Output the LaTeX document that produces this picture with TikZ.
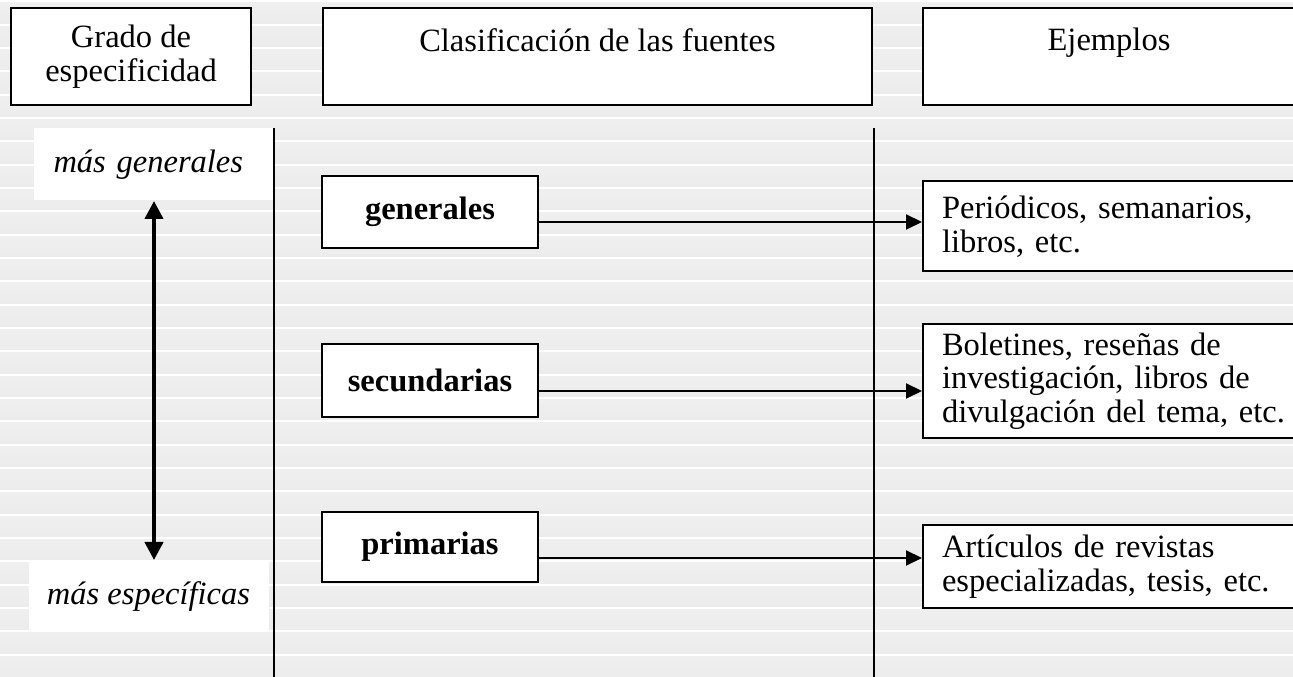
\documentclass[tikz,border=0pt]{standalone}
\usepackage{fontspec}
\setmainfont{Liberation Serif}
\usetikzlibrary{arrows.meta, positioning, calc}

% one reference pixel
\newcommand{\pxu}{0.4pt}

\begin{document}
\begin{tikzpicture}[x=0.4pt, y=-0.4pt,
  txt/.style={font=\fontsize{13}{13.5}\selectfont},
  hdrbox/.style={txt, draw, line width=0.8pt, fill=white, align=center, anchor=north west},
  softbox/.style={fill=white, anchor=north west, font=\fontsize{13}{13.5}\selectfont\itshape},
  clbox/.style={draw, line width=0.8pt, fill=white, minimum width=216*\pxu,
    font=\fontsize{13}{13.5}\selectfont\bfseries},
  exbox/.style={txt, draw, line width=0.8pt, fill=white, anchor=west, align=left,
    text width=352*\pxu, inner xsep=19*\pxu},
  sep/.style={line width=0.8pt},
  arr/.style={-{Triangle[length=6.4pt, width=6pt]}, line width=0.8pt},
  dblarr/.style={{Triangle[length=7.2pt, width=7.2pt]}-{Triangle[length=7.2pt, width=7.2pt]}, line width=1.6pt}]
  % Define colors
  \definecolor{stripetop}{RGB}{239,239,239}
  \definecolor{stripemid}{RGB}{230,230,230}
  \definecolor{stripebot}{RGB}{236,236,236}

  \clip (0,0) rectangle (1293,677);

  % Striped background
  \foreach \k in {0,...,29} {
    \shade[top color=stripetop, middle color=stripemid, bottom color=stripebot]
      (0,{\k*23.33+3}) rectangle (1293,{\k*23.33+23.33});
  }

  % Headers
  \node[hdrbox, minimum width=240*\pxu, minimum height=97*\pxu] (grado) at (10,7) {Grado de\\especificidad};
  \node[hdrbox, minimum width=549*\pxu, minimum height=97*\pxu] (clasif) at (322,7) {Clasificación de las fuentes\\\mbox{}};
  \node[hdrbox, minimum width=372*\pxu, minimum height=97*\pxu] (ejem) at (922,7) {Ejemplos\\\mbox{}};

  % Degree of specificity
  \node[softbox, align=left, text width=201*\pxu, inner xsep=20*\pxu, minimum height=72*\pxu] (masgen) at (33,128) {más generales};
  \node[softbox, minimum width=240*\pxu, minimum height=72*\pxu] (masesp) at (28,560) {más específicas};
  \draw[dblarr] (masgen.south) -- (masgen.south |- masesp.north);

  % Column separators
  \draw[sep] (274,128) -- (274,677);
  \draw[sep] (874,128) -- (874,677);

  % Classification of sources
  \node[clbox, minimum height=72*\pxu] (gen) at (430,212) {generales};
  \node[clbox, minimum height=73*\pxu] (sec) at (430,380.5) {secundarias};
  \node[clbox, minimum height=70*\pxu] (prim) at (430,547) {primarias};

  % Examples
  \node[exbox, minimum height=90*\pxu] (per) at (922,226.5) {Periódicos, semanarios,\\libros, etc.};
  \node[exbox, minimum height=112*\pxu] (bol) at (922,381) {Boletines, reseñas de\\investigación, libros de\\divulgación del tema, etc.};
  \node[exbox, minimum height=83*\pxu] (art) at (922,566.5) {Artículos de revistas\\especializadas, tesis, etc.};

  % Arrows
  \coordinate (genout) at ($(gen.east)+(0,10)$);
  \coordinate (secout) at ($(sec.east)+(0,10.5)$);
  \coordinate (primout) at ($(prim.east)+(0,11)$);
  \draw[arr] (genout) -- (genout -| per.west);
  \draw[arr] (secout) -- (secout -| bol.west);
  \draw[arr] (primout) -- (primout -| art.west);
\end{tikzpicture}
\end{document}
